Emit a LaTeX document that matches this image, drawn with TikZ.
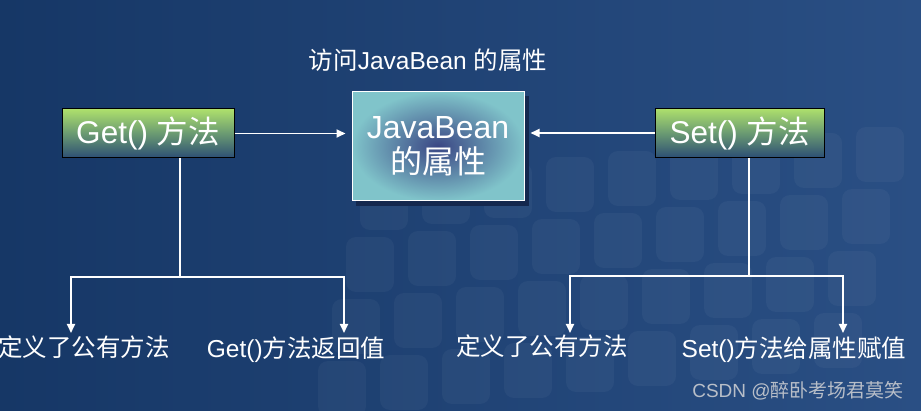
\documentclass[tikz,border=0pt]{standalone}
\usepackage{fontspec}
\setmainfont{Liberation Sans}
\newfontfamily\cjk{Noto Sans CJK SC}
\usetikzlibrary{arrows.meta,calc}
\definecolor{bgA}{HTML}{163766}
\definecolor{bgB}{HTML}{2A4F84}
\definecolor{gTop}{HTML}{AEE06C}
\definecolor{gMid}{HTML}{6A9A72}
\definecolor{gBot}{HTML}{2C4E74}
\definecolor{jOut}{HTML}{80C4CA}
\definecolor{jIn}{HTML}{3A4684}
\definecolor{shad}{HTML}{14284E}
\definecolor{wm}{HTML}{B8BEC8}
\tikzset{
  gbox/.style={draw=black, line width=1pt, top color=gTop, bottom color=gBot, middle color=gMid,
    minimum height=49pt, inner sep=0pt, text=white, font=\fontsize{31.5}{35}\selectfont},
  jbox/.style={draw=white, line width=1pt, inner color=jIn, outer color=jOut,
    minimum width=172pt, minimum height=109pt, inner sep=0pt, text=white,
    align=center, font=\fontsize{32}{35}\selectfont},
  lbl/.style={text=white, inner sep=0pt, font=\fontsize{24.5}{28}\selectfont},
  wmark/.style={text=wm, inner sep=0pt, font=\fontsize{19}{22}\selectfont},
  conn/.style={draw=white, line width=1.8pt},
  arr/.style={conn, -{Triangle[width=8pt,length=9pt]}},
  tile/.style={fill=white, fill opacity=0.04, rounded corners=10pt}
}
\begin{document}
\begin{tikzpicture}[x=1pt,y=-1pt]
  % background
  \shade[left color=bgA, right color=bgB] (0,0) rectangle (921,411);
  \useasboundingbox (0,0) rectangle (921,411);
  \foreach \i in {0,...,8}{
    \foreach \j in {0,...,3}{
      \pgfmathsetmacro{\xx}{360+\i*62-\j*14}
      \pgfmathsetmacro{\yy}{175+\j*62-\i*6}
      \fill[tile] (\xx,\yy) rectangle ++(48,55);
    }
  }
  % nodes
  \node[lbl] (title) at (428,60) {{\cjk 访问}JavaBean {\cjk 的属性}};
  \node[gbox, minimum width=172pt] (get) at (148,133.5) {Get() {\cjk 方法}};
  \node[gbox, minimum width=169pt] (set) at (739.5,133) {Set() {\cjk 方法}};
  \fill[shad] (356,96) rectangle (529,206);
  \node[jbox] (jb) at (438,146.5) {JavaBean\\{\cjk 的属性}};
  \node[lbl] (t1) at (84,347) {\cjk 定义了公有方法};
  \node[lbl] (t2) at (296,350) {Get(){\cjk 方法返回值}};
  \node[lbl] (t3) at (542,346) {\cjk 定义了公有方法};
  \node[lbl] (t4) at (794,350) {Set(){\cjk 方法给属性赋值}};
  \node[wmark] (wm) at (798,391) {CSDN @{\cjk 醉卧考场君莫笑}};
  % connectors
  \coordinate (gj) at (180,277);
  \coordinate (sj) at (749,276);
  \coordinate (e1) at (71,333);
  \coordinate (e2) at (344,333);
  \coordinate (e3) at (570,333);
  \coordinate (e4) at (843,333);
  \draw[arr, shorten >=6pt] (get.east) -- (get.east -| jb.west);
  \draw[arr, shorten >=6pt] (set.west) -- (set.west -| jb.east);
  \draw[conn] (gj |- get.south) -- (gj);
  \draw[arr] (gj) -| (e1);
  \draw[arr] (gj) -| (e2);
  \draw[conn] (sj |- set.south) -- (sj);
  \draw[arr] (sj) -| (e3);
  \draw[arr] (sj) -| (e4);
\end{tikzpicture}
\end{document}
